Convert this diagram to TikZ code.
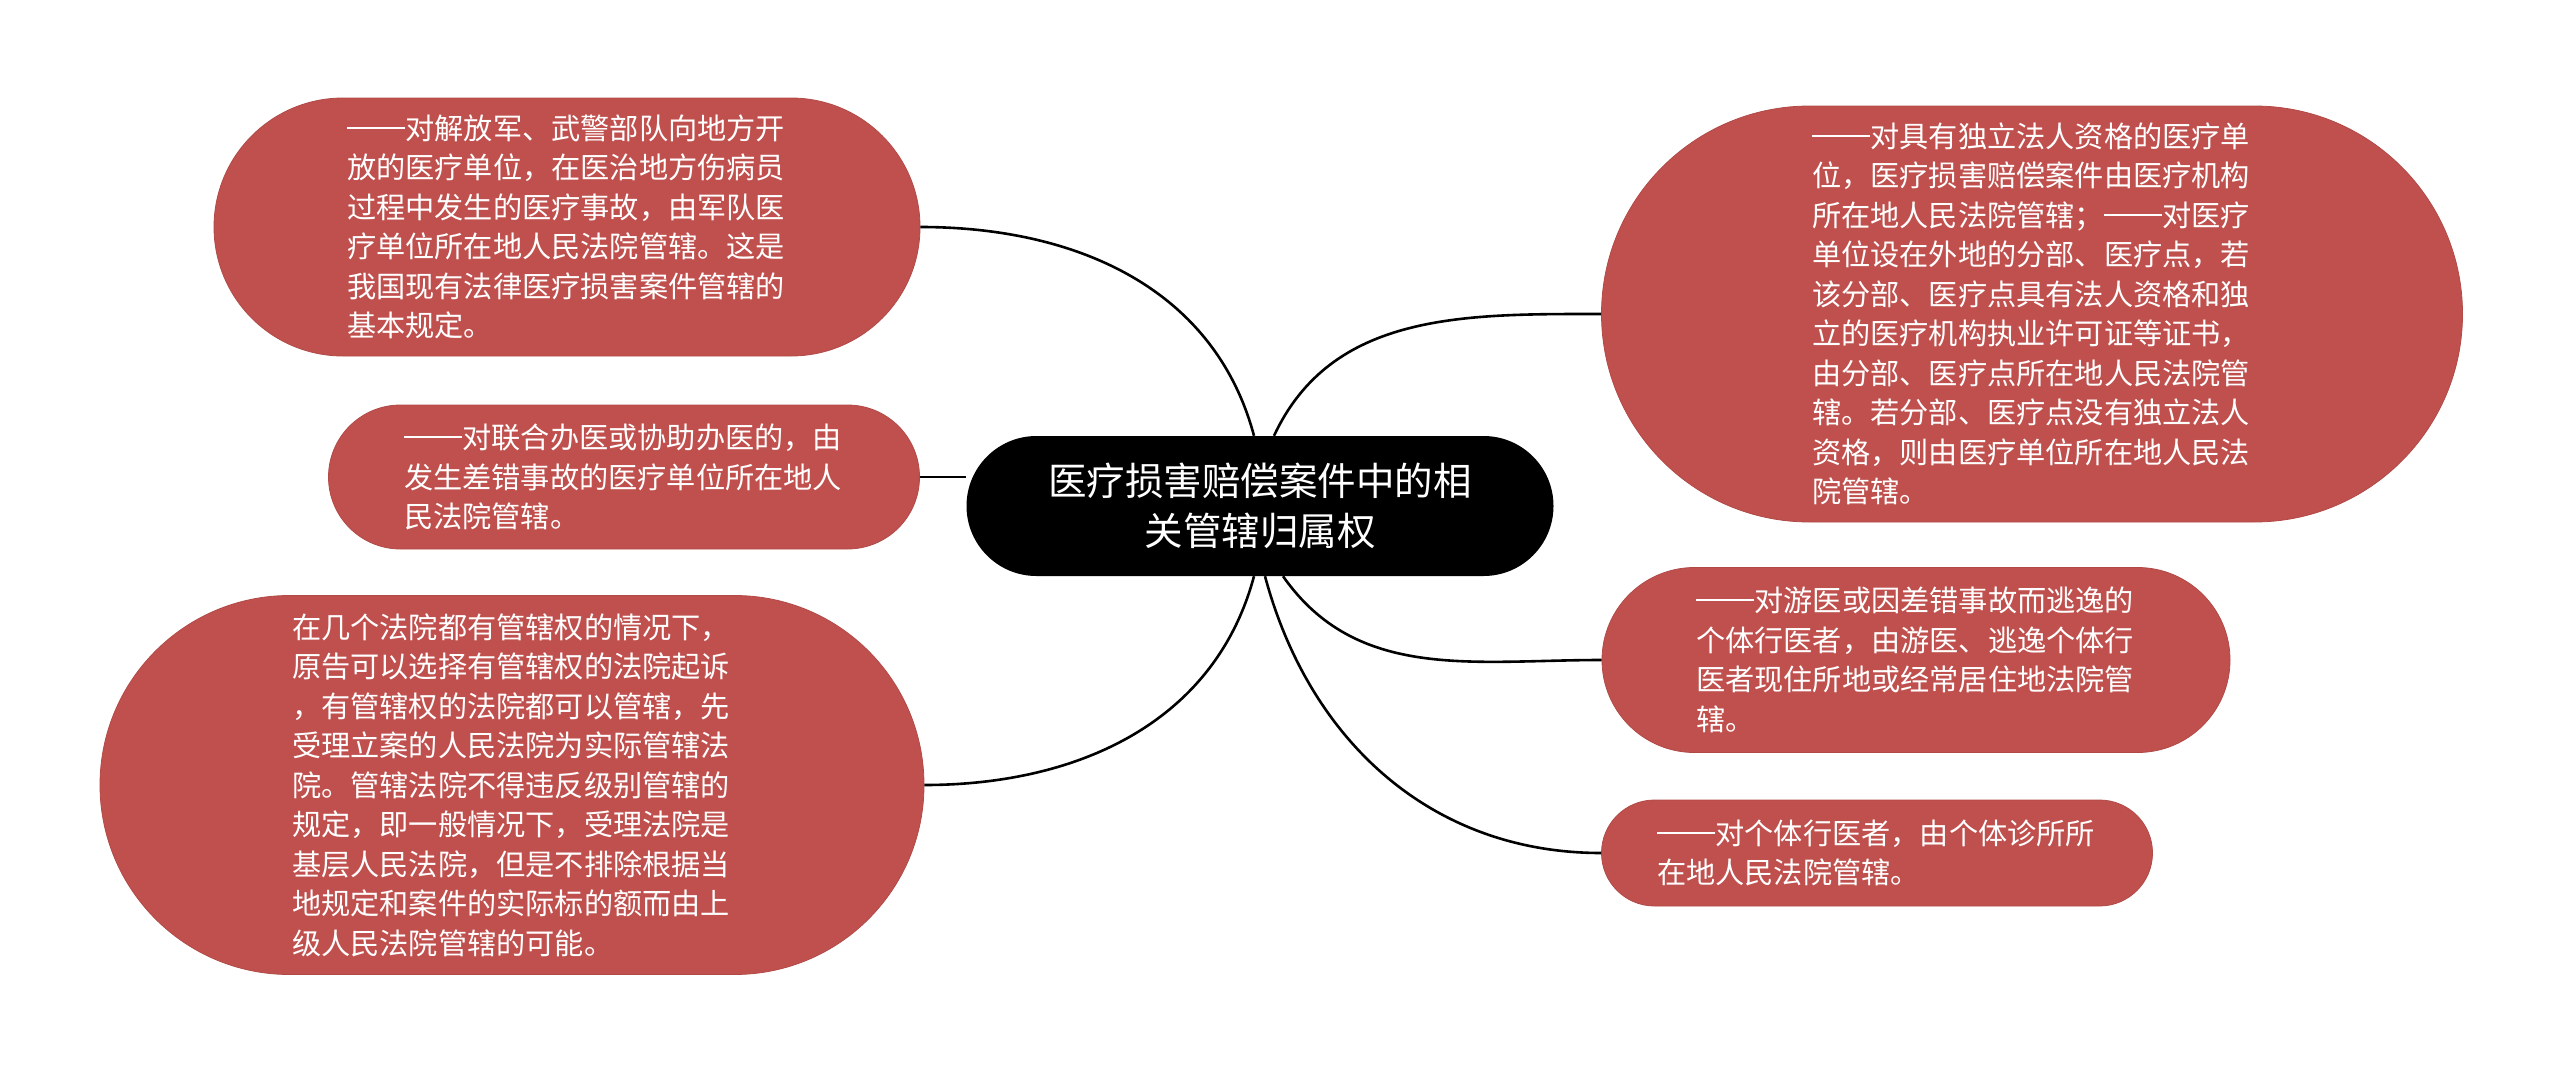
\documentclass[tikz,border=0pt]{standalone}
\usepackage{fontspec}
\newfontfamily\cjk{Noto Sans CJK SC}
\usetikzlibrary{shapes.misc}
\definecolor{leafred}{RGB}{192,80,77}
% two-em dash as the reference sets it
\newcommand{\longdash}{\rule[0.36em]{2em}{0.065em}}

\begin{document}
\begin{tikzpicture}[x=1pt,y=1pt]
\tikzset{
  rootnode/.style={rounded rectangle,fill=black,text=white,inner sep=0pt,align=center,font={\cjk\fontsize{38.5}{50}\selectfont}},
  leafnode/.style={rounded rectangle,fill=leafred,draw=leafred!92!black,line width=0.8pt,text=white,inner xsep=2pt,inner ysep=0pt,text width=440pt,align=left,font={\cjk\fontsize{29.2}{39.5}\selectfont}},
  branch/.style={line width=2.6pt}
}
\useasboundingbox (0,0) rectangle (2560,-1071);
\node[rootnode,minimum width=587pt,minimum height=140pt] (n_root) at (1260,-506) {医疗损害赔偿案件中的相\\关管辖归属权};
% left side
\node[leafnode,minimum width=710pt,minimum height=258pt] (n_l1) at (567,-227) {\longdash 对解放军、武警部队向地方开\\放的医疗单位，在医治地方伤病员\\过程中发生的医疗事故，由军队医\\疗单位所在地人民法院管辖。这是\\我国现有法律医疗损害案件管辖的\\基本规定。};
\node[leafnode,minimum width=595pt,minimum height=144pt] (n_l2) at (624,-477) {\longdash 对联合办医或协助办医的，由\\发生差错事故的医疗单位所在地人\\民法院管辖。};
\node[leafnode,minimum width=828pt,minimum height=379pt] (n_l3) at (512,-785) {在几个法院都有管辖权的情况下，\\原告可以选择有管辖权的法院起诉\\，有管辖权的法院都可以管辖，先\\受理立案的人民法院为实际管辖法\\院。管辖法院不得违反级别管辖的\\规定，即一般情况下，受理法院是\\基层人民法院，但是不排除根据当\\地规定和案件的实际标的额而由上\\级人民法院管辖的可能。};
% right side
\node[leafnode,minimum width=865pt,minimum height=416pt] (n_r1) at (2032,-314) {\longdash 对具有独立法人资格的医疗单\\位，医疗损害赔偿案件由医疗机构\\所在地人民法院管辖；\longdash 对医疗\\单位设在外地的分部、医疗点，若\\该分部、医疗点具有法人资格和独\\立的医疗机构执业许可证等证书，\\由分部、医疗点所在地人民法院管\\辖。若分部、医疗点没有独立法人\\资格，则由医疗单位所在地人民法\\院管辖。};
\node[leafnode,minimum width=632pt,minimum height=185pt] (n_r2) at (1916,-660) {\longdash 对游医或因差错事故而逃逸的\\个体行医者，由游医、逃逸个体行\\医者现住所地或经常居住地法院管\\辖。};
\node[leafnode,minimum width=555pt,minimum height=106pt] (n_r3) at (1877,-853) {\longdash 对个体行医者，由个体诊所所\\在地人民法院管辖。};
% branches
\draw[branch] ([xshift=-6pt]n_root.north) to[out=105,in=0] (n_l1.east);
\draw[branch] (n_l2.east) -- (n_l2.east -| n_root.west);
\draw[branch] ([xshift=-6pt]n_root.south) to[out=-105,in=0] (n_l3.east);
\draw[branch] ([xshift=14pt]n_root.north) to[out=65,in=180] (n_r1.west);
\draw[branch] ([xshift=23pt]n_root.south) to[out=-55,in=180] (n_r2.west);
\draw[branch] ([xshift=5pt]n_root.south) to[out=-75,in=180] (n_r3.west);
\end{tikzpicture}
\end{document}
